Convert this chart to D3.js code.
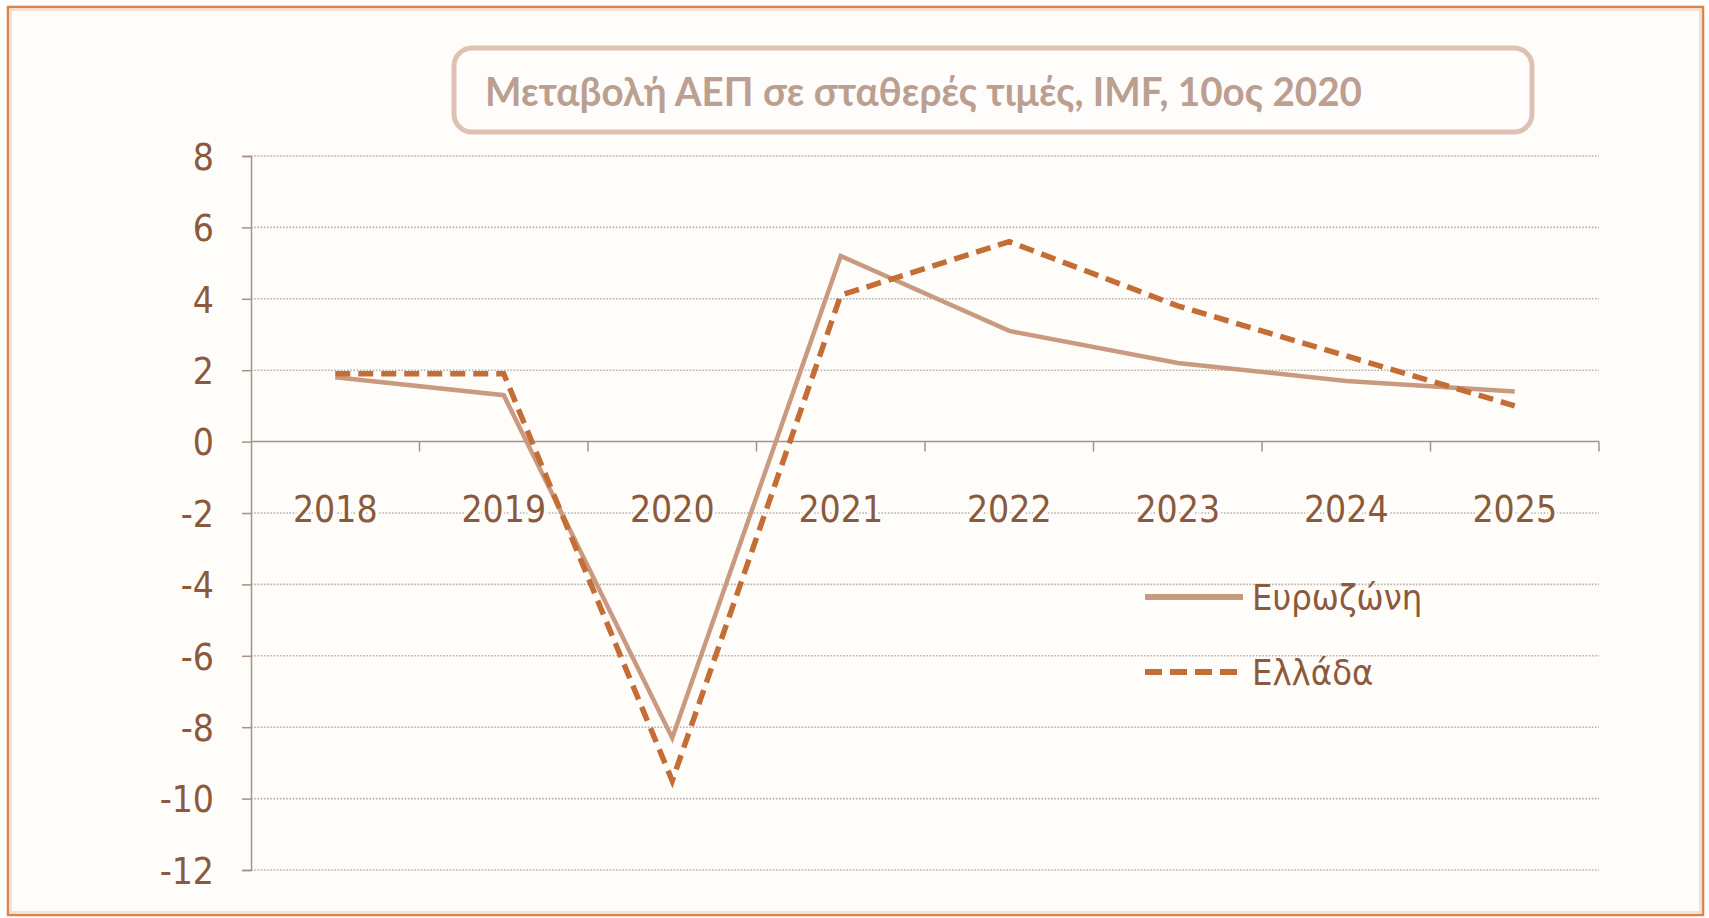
<!DOCTYPE html>
<html>
<head>
<meta charset="utf-8">
<script src="https://cdn.jsdelivr.net/npm/d3@7/dist/d3.min.js"></script>
<style>
  html, body { margin: 0; padding: 0; background: #ffffff; }
  svg { display: block; }
  .lbl { font-family: "Liberation Sans Narrow", "DejaVu Sans Condensed", "Liberation Sans", sans-serif; fill: #8b5a3c; }
</style>
</head>
<body>
<div id="chart"></div>
<script>
// data
var years = ["2018","2019","2020","2021","2022","2023","2024","2025"];
var eurozone = [1.8, 1.3, -8.3, 5.2, 3.1, 2.2, 1.7, 1.4];
var greece = [1.9, 1.9, -9.5, 4.1, 5.6, 3.8, 2.4, 1.0];
var yTicks = [8, 6, 4, 2, 0, -2, -4, -6, -8, -10, -12];
var seriesNames = ["Ευρωζώνη", "Ελλάδα"];
var title = "Μεταβολή ΑΕΠ σε σταθερές τιμές, IMF, 10ος 2020";

var W = 1709, H = 918,
    m = {t:156, r:110, b:48, l:251},
    euroColor = "#c99a80",
    grColor = "#c46e36",
    gridColor = "#b8b0aa",
    axisColor = "#a89284";

var svg = d3.select("#chart").append("svg")
    .attr("width", W)
    .attr("height", H);

// frame
svg.append("rect")
    .attr("x", 0).attr("y", 0).attr("width", W).attr("height", H)
    .attr("fill", "#ffffff");
svg.append("rect")
    .attr("x", 8).attr("y", 7).attr("width", W - 14).attr("height", H - 10)
    .attr("fill", "#fffdfa")
    .attr("stroke", "#dd8448")
    .attr("stroke-width", 2.5);
svg.append("rect")
    .attr("x", 11).attr("y", 10).attr("width", W - 20).attr("height", H - 16)
    .attr("fill", "none")
    .attr("stroke", "#efe2d8")
    .attr("stroke-width", 2);

// title box
svg.append("rect")
    .attr("x", 454).attr("y", 48)
    .attr("width", 1078).attr("height", 84)
    .attr("rx", 18).attr("ry", 18)
    .attr("fill", "#fffdfb")
    .attr("stroke", "#dcc2b2")
    .attr("stroke-width", 5);
svg.append("text")
    .attr("x", 485).attr("y", 106)
    .attr("textLength", 877)
    .attr("lengthAdjust", "spacingAndGlyphs")
    .style("font-family", "Lato, 'Open Sans', sans-serif")
    .style("font-weight", "bold")
    .style("font-size", "40px")
    .style("fill", "#bb9f90")
    .text(title);

var x = d3.scaleBand().domain(years).range([m.l, W - m.r]).padding(0);
var y = d3.scaleLinear().domain([-12, 8]).range([H - m.b, m.t]);

var g = svg.append("g");

// dotted gridlines
g.selectAll(".grid")
    .data(yTicks.filter(function(d){ return d !== 0; }))
    .enter().append("line")
    .attr("class", "grid")
    .attr("x1", m.l).attr("x2", W - m.r)
    .attr("y1", function(d){ return y(d); })
    .attr("y2", function(d){ return y(d); })
    .attr("stroke", gridColor)
    .attr("stroke-width", 1.6)
    .attr("stroke-dasharray", "1.6,1.6");

// y axis
var yAxis = d3.axisLeft(y).tickValues(yTicks).tickSize(9).tickFormat(function(d){ return String(d); });
var yG = g.append("g").attr("transform", "translate(" + m.l + ",0)").call(yAxis);
yG.select(".domain").attr("stroke", axisColor).attr("stroke-width", 1.5);
yG.selectAll(".tick line").attr("stroke", axisColor).attr("stroke-width", 1.5);
yG.selectAll(".tick text")
    .attr("class", "lbl")
    .attr("x", -37)
    .attr("dy", "0.36em")
    .style("font-size", "37px")
    .style("fill", "#8b5a3c");

// x axis at zero
g.append("line")
    .attr("x1", m.l).attr("x2", W - m.r)
    .attr("y1", y(0)).attr("y2", y(0))
    .attr("stroke", axisColor)
    .attr("stroke-width", 1.5);
var bounds = years.map(function(d){ return x(d); }).concat([x(years[years.length-1]) + x.bandwidth()]);
g.selectAll(".xtick")
    .data(bounds.slice(1))
    .enter().append("line")
    .attr("x1", function(d){ return d; }).attr("x2", function(d){ return d; })
    .attr("y1", y(0)).attr("y2", y(0) + 10)
    .attr("stroke", axisColor)
    .attr("stroke-width", 1.5);

g.selectAll(".xlabel")
    .data(years)
    .enter().append("text")
    .attr("class", "lbl")
    .attr("x", function(d){ return x(d) + x.bandwidth()/2; })
    .attr("y", y(-2) + 9)
    .style("text-anchor", "middle")
    .style("font-size", "37px")
    .style("stroke", "#fffdfa")
    .style("stroke-width", 6)
    .style("paint-order", "stroke")
    .text(function(d){ return d; });

// lines
var line = d3.line()
    .x(function(d, i){ return x(years[i]) + x.bandwidth()/2; })
    .y(function(d){ return y(d); });

g.append("path")
    .datum(eurozone)
    .attr("d", line)
    .attr("fill", "none")
    .attr("stroke", euroColor)
    .attr("stroke-width", 4.5)
    .attr("stroke-linejoin", "miter");

g.append("path")
    .datum(greece)
    .attr("d", line)
    .attr("fill", "none")
    .attr("stroke", grColor)
    .attr("stroke-width", 5.5)
    .attr("stroke-dasharray", "15,8")
    .attr("stroke-linejoin", "miter");

// legend
var legend = g.append("g").attr("transform", "translate(1145,0)");
var legendY = [597, 672];
legend.append("line")
    .attr("x1", 0).attr("x2", 98)
    .attr("y1", legendY[0]).attr("y2", legendY[0])
    .attr("stroke", euroColor)
    .attr("stroke-width", 6);
legend.append("line")
    .attr("x1", 0).attr("x2", 98)
    .attr("y1", legendY[1]).attr("y2", legendY[1])
    .attr("stroke", grColor)
    .attr("stroke-width", 6)
    .attr("stroke-dasharray", "17,8");
legend.selectAll(".legtext")
    .data(seriesNames)
    .enter().append("text")
    .attr("class", "lbl")
    .attr("x", 107)
    .attr("y", function(d, i){ return legendY[i]; })
    .attr("dy", "0.36em")
    .style("font-size", "36px")
    .text(function(d){ return d; });
</script>
</body>
</html>
